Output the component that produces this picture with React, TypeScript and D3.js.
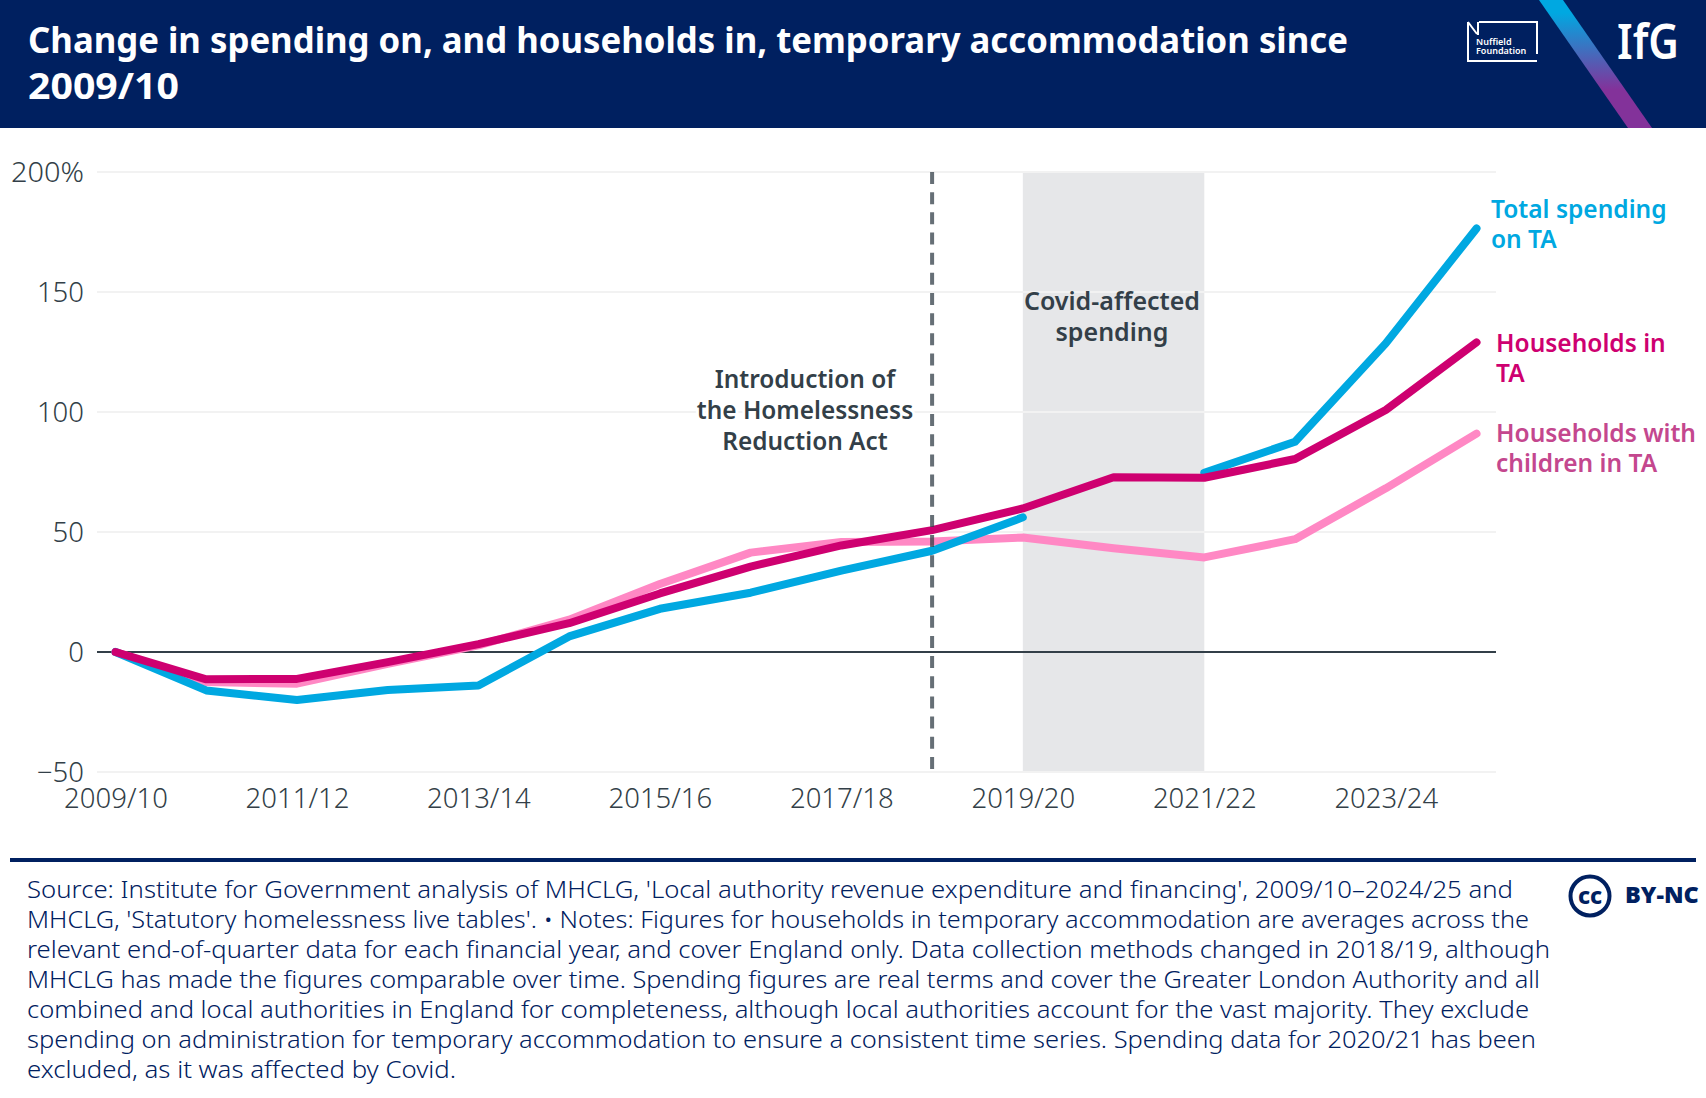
import * as d3 from "d3";

const years = [
  "2009/10", "2010/11", "2011/12", "2012/13", "2013/14", "2014/15", "2015/16", "2016/17",
  "2017/18", "2018/19", "2019/20", "2020/21", "2021/22", "2022/23", "2023/24", "2024/25",
];
const totalSpending = [0, -16, -20, -15.8, -14, 6.5, 18, 24.7, 33.9, 42.2, 56.1, null, 74.7, 87.6, 128.6, 176.5];
const householdsInTA = [0, -11.4, -11.2, -4.2, 3.3, 12, 24.4, 35.6, 44.4, 50.8, 59.8, 72.8, 72.6, 80.4, 100.8, 129];
const householdsWithChildren = [0, -12.5, -13.2, -4.9, 2.8, 13.5, 28.3, 41.4, 45.8, 46, 47.7, 43.2, 39.4, 47, 68.2, 91];

const yTicks = [-50, 0, 50, 100, 150, 200];
const xTickYears = years.filter((_, i) => i % 2 === 0);
const actYear = "2018/19";
const covidYears = ["2019/20", "2021/22"];

const titleLines = [
  "Change in spending on, and households in, temporary accommodation since",
  "2009/10",
];
const footerLines = [
  "Source: Institute for Government analysis of MHCLG, 'Local authority revenue expenditure and financing', 2009/10–2024/25 and",
  "MHCLG, 'Statutory homelessness live tables'. • Notes: Figures for households in temporary accommodation are averages across the",
  "relevant end-of-quarter data for each financial year, and cover England only. Data collection methods changed in 2018/19, although",
  "MHCLG has made the figures comparable over time. Spending figures are real terms and cover the Greater London Authority and all",
  "combined and local authorities in England for completeness, although local authorities account for the vast majority. They exclude",
  "spending on administration for temporary accommodation to ensure a consistent time series. Spending data for 2020/21 has been",
  "excluded, as it was affected by Covid.",
];
// the original face runs a little wider than Noto Sans, so each line is fitted
const titleWidths = [1320, 151];
const footerWidths = [1486, 1502, 1523, 1513, 1502, 1509, 429];

const navy = "#002060";
const ink = "#333f48";
const blue = "#00a8e1";
const magenta = "#ce0070";
const pink = "#ff88c4";
const pinkLabel = "#c4478e";
const font = "'Noto Sans', sans-serif";

const width = 1706;
const height = 1098;

const x = d3.scalePoint<string>().domain(years).range([115.5, 1476.5]);
const y = d3.scaleLinear().domain([-50, 200]).range([772, 172]);

const line = d3
  .line<number | null>()
  .defined((d) => d !== null)
  .x((_, i) => x(years[i])!)
  .y((d) => y(d as number));

const series = [
  { values: householdsWithChildren, color: pink },
  { values: totalSpending, color: blue },
  { values: householdsInTA, color: magenta },
];

const seriesLabels = [
  { lines: ["Total spending", "on TA"], color: blue, x: 1491, y: 218 },
  { lines: ["Households in", "TA"], color: magenta, x: 1496, y: 352 },
  { lines: ["Households with", "children in TA"], color: pinkLabel, x: 1496, y: 442 },
];

export default function App() {
  return (
    <svg
      width={width}
      height={height}
      viewBox={`0 0 ${width} ${height}`}
      style={{ position: "absolute", left: 0, top: 0, display: "block", background: "#fff" }}
      fontFamily={font}
    >
      <defs>
        <linearGradient id="stripe" x1="0" y1="0" x2="0" y2="128" gradientUnits="userSpaceOnUse">
          <stop offset="0.1" stopColor="#00a8e1" />
          <stop offset="0.7" stopColor="#83329a" />
        </linearGradient>
      </defs>

      {/* Header */}
      <rect width={width} height={128} fill={navy} />
      {titleLines.map((t, i) => (
        <text
          key={t}
          x={28}
          y={53 + i * 46}
          fill="#fff"
          fontSize={36}
          fontWeight={700}
          textLength={titleWidths[i]}
          lengthAdjust="spacingAndGlyphs"
        >
          {t}
        </text>
      ))}
      <path d="M1539,0H1563L1652,128H1628Z" fill="url(#stripe)" />
      <text x={1617} y={59} fill="#fff" fontSize={48} fontWeight={600} textLength={62} lengthAdjust="spacingAndGlyphs">
        IfG
      </text>
      {/* Nuffield mark */}
      <path
        d="M1537,54V22H1479M1468,22V61H1537M1468,22L1477,34"
        fill="none"
        stroke="#fff"
        strokeWidth={2}
      />
      <path d="M1478,22V35" fill="none" stroke="#fff" strokeWidth={2} />
      <text x={1476} y={45} fill="#fff" fontSize={9} fontWeight={600}>
        Nuffield
      </text>
      <text x={1476} y={54} fill="#fff" fontSize={9} fontWeight={600}>
        Foundation
      </text>

      {/* Covid band */}
      <rect
        x={x(covidYears[0])!}
        y={y(200)}
        width={x(covidYears[1])! - x(covidYears[0])!}
        height={y(-50) - y(200)}
        fill="#e6e7e9"
      />

      {/* Grid */}
      {yTicks.map((t) => (
        <g key={t}>
          <line
            x1={97}
            x2={1496}
            y1={y(t)}
            y2={y(t)}
            stroke={t === 0 ? ink : "#f2f2f2"}
            strokeWidth={2}
          />
          <text
            x={84}
            y={y(t) + 10}
            textAnchor="end"
            fontSize={27.5}
            fontWeight={300}
            fill={ink}
            textLength={t === 200 ? 73 : undefined}
            lengthAdjust="spacingAndGlyphs"
          >
            {t === 200 ? "200%" : t < 0 ? `−${-t}` : t}
          </text>
        </g>
      ))}
      {xTickYears.map((yr) => (
        <text key={yr} x={x(yr)! + 0.5} y={808} textAnchor="middle" fontSize={27.5} fontWeight={300} fill={ink}>
          {yr}
        </text>
      ))}

      {/* Series */}
      {series.map((s) => (
        <path
          key={s.color}
          d={line(s.values) ?? undefined}
          fill="none"
          stroke={s.color}
          strokeWidth={8}
          strokeLinecap="round"
          strokeLinejoin="round"
        />
      ))}

      {/* Act marker */}
      <line
        x1={x(actYear)!}
        x2={x(actYear)!}
        y1={y(200)}
        y2={y(-50)}
        stroke={ink}
        strokeOpacity={0.75}
        strokeWidth={4}
        strokeDasharray="12 8.17"
      />

      {/* Annotations */}
      {["Introduction of", "the Homelessness", "Reduction Act"].map((t, i) => (
        <text
          key={t}
          x={805}
          y={388 + i * 31}
          textAnchor="middle"
          fontSize={24.4}
          fontWeight={600}
          fill={ink}
          stroke="#fff"
          strokeWidth={6}
          paintOrder="stroke"
          strokeLinejoin="round"
        >
          {t}
        </text>
      ))}
      {["Covid-affected", "spending"].map((t, i) => (
        <text key={t} x={1112} y={310 + i * 31} textAnchor="middle" fontSize={25} fontWeight={600} fill={ink}>
          {t}
        </text>
      ))}

      {/* Direct labels */}
      {seriesLabels.map((l) =>
        l.lines.map((t, i) => (
          <text key={t} x={l.x} y={l.y + i * 30} fontSize={24.5} fontWeight={600} fill={l.color}>
            {t}
          </text>
        )),
      )}

      {/* Footer */}
      <rect x={10} y={858} width={1686} height={4} fill={navy} />
      {footerLines.map((t, i) => (
        <text
          key={i}
          x={27}
          y={898 + i * 30}
          fontSize={24.5}
          fontWeight={350}
          fill={navy}
          textLength={footerWidths[i]}
          lengthAdjust="spacingAndGlyphs"
        >
          {t}
        </text>
      ))}
      <circle cx={1590} cy={896} r={19.5} fill="none" stroke={navy} strokeWidth={4} />
      <text x={1590} y={904} textAnchor="middle" fontSize={23} fontWeight={800} fill={navy}>
        cc
      </text>
      <text x={1625} y={903} fontSize={23.5} fontWeight={900} fill={navy}>
        BY-NC
      </text>
    </svg>
  );
}
